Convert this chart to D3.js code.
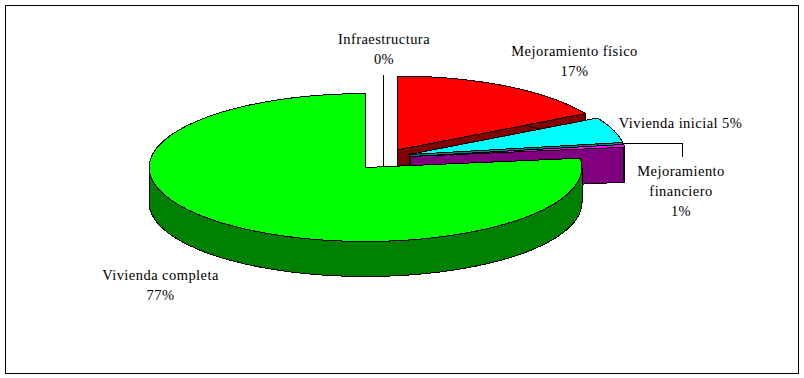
<!DOCTYPE html>
<html><head><meta charset="utf-8">
<script src="https://cdn.jsdelivr.net/npm/d3@7/dist/d3.min.js"></script>
<style>html,body{margin:0;padding:0;background:#fff}svg{display:block}
text{font-family:"Liberation Serif",serif;font-size:14.5px;letter-spacing:.45px;fill:#000;text-anchor:middle}</style>
</head><body><svg id="c" width="804" height="378" shape-rendering="crispEdges"></svg>
<script>
const categories = ["Mejoramiento físico","Vivienda inicial","Mejoramiento financiero","Vivienda completa","Infraestructura"];
const percentLabels = ["17%","5%","1%","77%","0%"];
const shares = [16.8,5.6,0.6,77,0];
const topColors = ["#ff0000","#00ffff","#ff00ff","#00ff00","#ffffff"];
const sideColors = ["#800000","#008080","#800080","#008000","#ffffff"];

const svg = d3.select("#c");
const RX = 216.5, RY = 74, DEPTH = 35;
const centers = [[397,150],[409,154.5],[410,156.5],[365.5,167.5],[365.5,167.5]];
const pie = d3.pie().sort(null).value(d=>d)(shares);
const sx = d3.scaleLinear().domain([-1,1]).range([-RX,RX]);
const sy = d3.scaleLinear().domain([-1,1]).range([RY,-RY]);
const pt = (i,a,dz=0)=>[centers[i][0]+sx(Math.sin(a)),centers[i][1]+sy(Math.cos(a))+dz];
const line = d3.line();
const rim = (i,a0,a1,dz=0)=>d3.range(0,61).map(k=>pt(i,a0+(a1-a0)*k/60,dz));

svg.append("rect").attr("x",5.5).attr("y",5.5).attr("width",793).attr("height",368)
  .attr("fill","#fff").attr("stroke","#000");

const g = svg.append("g").attr("stroke","#000").attr("stroke-width",1).attr("stroke-linejoin","round");

g.append("line").attr("x1",383.5).attr("x2",383.5).attr("y1",75).attr("y2",167);

[0,1,2,3].forEach(i=>{
  const s = pie[i], c = centers[i];
  const side = g.append("g").attr("fill",sideColors[i]);
  const e = pt(i,s.endAngle);
  side.append("path").attr("d",line([c,e,[e[0],e[1]+DEPTH],[c[0],c[1]+DEPTH]])+"Z");
  const a0 = Math.max(s.startAngle,Math.PI/2), a1 = Math.min(s.endAngle,Math.PI*1.5);
  if(a1>a0){
    side.append("path").attr("d",line(rim(i,a0,a1).concat(rim(i,a1,a0,DEPTH)))+"Z");
  } else {
    const o = rim(i,s.startAngle,s.endAngle);
    side.append("path").attr("d",line(o.concat(rim(i,s.endAngle,s.startAngle,DEPTH)))+"Z");
  }
  g.append("path").attr("fill",topColors[i])
    .attr("d",line([c].concat(rim(i,s.startAngle,s.endAngle)))+"Z");
});

svg.append("path").attr("fill","none").attr("stroke","#000")
  .attr("d",line([[623,143.5],[682.5,143.5],[682.5,157]]));

const labels = [
  [574.5,[categories[0],percentLabels[0]],[55.5,75.5]],
  [680.5,[categories[1]+" "+percentLabels[1]],[127.5]],
  [681,["Mejoramiento","financiero",percentLabels[2]],[175.5,195.5,215.5]],
  [160.5,[categories[3],percentLabels[3]],[279.5,299.5]],
  [384,[categories[4],percentLabels[4]],[44,64]]
];
labels.forEach(([x,ls,ys])=>ls.forEach((t,k)=>
  svg.append("text").attr("x",x).attr("y",ys[k]).text(t)));
</script></body></html>
